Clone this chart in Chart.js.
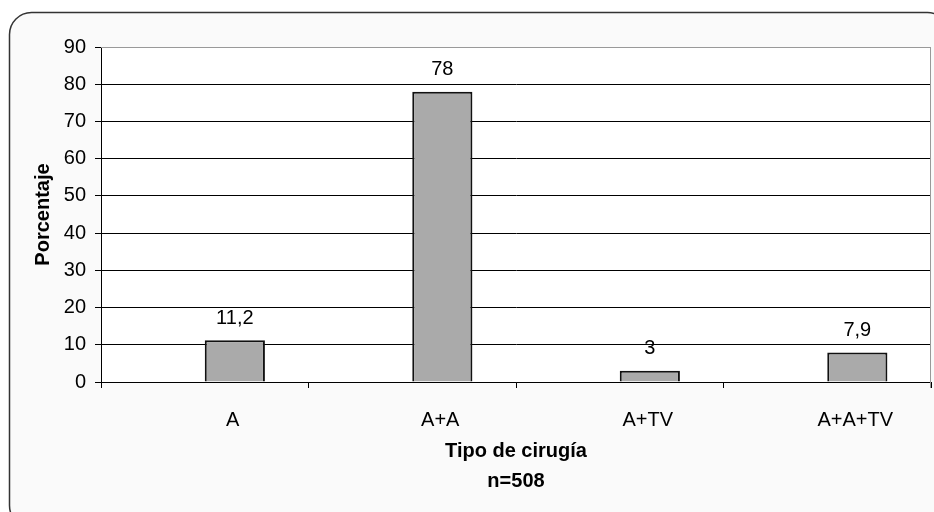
<!DOCTYPE html>
<html>
<head>
<meta charset="utf-8">
<title>Tipo de cirugía</title>
<script src="https://cdn.jsdelivr.net/npm/chart.js@4.4.1/dist/chart.umd.min.js"></script>
<style>
    html, body { margin: 0; padding: 0; background: #ffffff; }
    #wrap { width: 934px; height: 512px; position: relative; }
</style>
</head>
<body>
<div id="wrap"><canvas id="surgeryChart"></canvas></div>
<script>
// Chart data
const categories = ['A', 'A+A', 'A+TV', 'A+A+TV'];
const percentages = [11.2, 78, 3, 7.9];
const valueLabels = ['11,2', '78', '3', '7,9'];
const yTicks = [0, 10, 20, 30, 40, 50, 60, 70, 80, 90];

const FONT = "'Liberation Sans', Arial, sans-serif";

// Rounded frame + white plot background
const framePlugin = {
    id: 'frame',
    beforeDraw(chart) {
        const ctx = chart.ctx;
        const area = chart.chartArea;
        ctx.save();
        ctx.fillStyle = '#ffffff';
        ctx.fillRect(0, 0, chart.width, chart.height);
        ctx.beginPath();
        ctx.roundRect(9.5, 12.5, 940, 515, 22);
        ctx.fillStyle = '#fafafa';
        ctx.fill();
        ctx.lineWidth = 1.5;
        ctx.strokeStyle = '#333333';
        ctx.stroke();
        ctx.fillStyle = '#ffffff';
        ctx.fillRect(area.left, area.top, area.right - area.left, area.bottom - area.top);
        ctx.restore();
    },
    afterDatasetsDraw(chart) {
        const ctx = chart.ctx;
        const area = chart.chartArea;
        // gray top and right plot border
        ctx.save();
        ctx.strokeStyle = '#999999';
        ctx.lineWidth = 1;
        ctx.beginPath();
        ctx.moveTo(area.left, area.top + 0.5);
        ctx.lineTo(area.right - 0.5, area.top + 0.5);
        ctx.lineTo(area.right - 0.5, area.bottom + 6);
        ctx.stroke();

        // value labels above bars
        const meta = chart.getDatasetMeta(1);
        ctx.fillStyle = '#000000';
        ctx.font = '20px ' + FONT;
        ctx.textAlign = 'center';
        ctx.textBaseline = 'alphabetic';
        meta.data.forEach(function(bar, i) {
            ctx.fillText(valueLabels[i], bar.x, bar.y - 16.5);
        });
        ctx.restore();
    }
};

new Chart(document.getElementById('surgeryChart'), {
    type: 'bar',
    data: {
        labels: categories,
        datasets: [{
            label: 'spacer',
            data: categories.map(function() { return null; }),
            backgroundColor: 'rgba(0,0,0,0)'
        }, {
            label: 'Porcentaje',
            data: percentages,
            backgroundColor: '#aaaaaa',
            borderColor: '#111111',
            borderWidth: 2
        }]
    },
    options: {
        responsive: true,
        maintainAspectRatio: false,
        animation: false,
        categoryPercentage: 0.58,
        barPercentage: 1,
        layout: { padding: { left: 0, top: 47, right: 3, bottom: 0 } },
        plugins: {
            legend: { display: false },
            tooltip: { enabled: false }
        },
        scales: {
            x: {
                afterFit: function(scale) { scale.height = 130; },
                grid: {
                    offset: true,
                    drawOnChartArea: false,
                    color: '#000000',
                    tickLength: 6
                },
                border: { color: '#000000', width: 1 },
                ticks: {
                    color: '#000000',
                    font: { family: FONT, size: 20 },
                    labelOffset: 28,
                    padding: 20
                },
                title: {
                    display: true,
                    text: ['Tipo de cirugía', 'n=508'],
                    color: '#000000',
                    font: { family: FONT, size: 20, weight: 'bold', lineHeight: 1.5 },
                    padding: { top: 16, bottom: 16 }
                }
            },
            y: {
                min: 0,
                max: 90,
                afterFit: function(scale) { scale.width = 101; },
                afterBuildTicks: function(scale) {
                    scale.ticks = yTicks.map(function(v) { return { value: v }; });
                },
                grid: {
                    color: function(c) { return c.tick && c.tick.value === 90 ? '#999999' : '#000000'; },
                    tickLength: 6,
                    tickColor: '#000000'
                },
                border: { color: '#000000', width: 1 },
                ticks: {
                    color: '#000000',
                    font: { family: FONT, size: 20 },
                    padding: 9
                },
                title: {
                    display: true,
                    text: 'Porcentaje',
                    color: '#000000',
                    font: { family: FONT, size: 20, weight: 'bold' },
                    padding: { top: 31, bottom: 0 }
                }
            }
        }
    },
    plugins: [framePlugin]
});
</script>
</body>
</html>
